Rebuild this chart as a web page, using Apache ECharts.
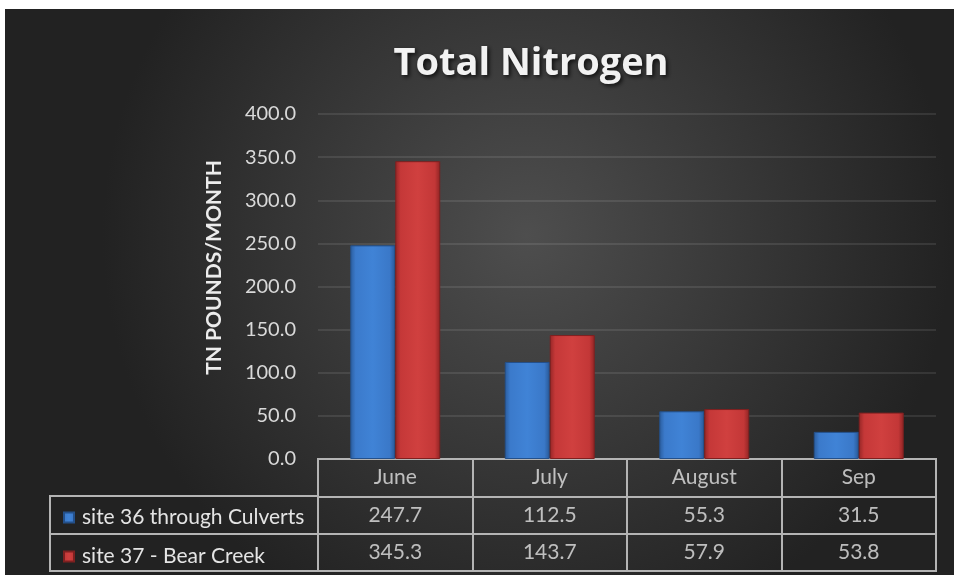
<!DOCTYPE html>
<html><head><meta charset="utf-8">
<script src="https://cdn.jsdelivr.net/npm/echarts@6/dist/echarts.min.js"></script>
<style>html,body{margin:0;padding:0;background:#fff}#c{width:954px;height:575px}</style>
</head><body><div id="c"></div>
<script>
const categories = ['June', 'July', 'August', 'Sep'];
const site36 = [247.7, 112.5, 55.3, 31.5];
const site37 = [345.3, 143.7, 57.9, 53.8];
const seriesNames = ['site 36 through Culverts', 'site 37 - Bear Creek'];
const yTicks = { min: 0, max: 400, interval: 50 };

const FONT = 'Lato';
const TXT = '#e4e4e4';
const LINE = '#b4b4b4';

const blueGrad = new echarts.graphic.LinearGradient(0, 0, 1, 0, [
  { offset: 0, color: '#2a5c9c' }, { offset: 0.12, color: '#3b7acb' },
  { offset: 0.5, color: '#4083d6' }, { offset: 0.88, color: '#3a78c8' }, { offset: 1, color: '#285896' }]);
const redGrad = new echarts.graphic.LinearGradient(0, 0, 1, 0, [
  { offset: 0, color: '#942626' }, { offset: 0.12, color: '#c53838' },
  { offset: 0.5, color: '#d0403f' }, { offset: 0.88, color: '#c33737' }, { offset: 1, color: '#8e2424' }]);

const chart = echarts.init(document.getElementById('c'), null, { renderer: 'canvas' });

function cellSeries(row, texts, name) {
  return {
    type: 'scatter', name: name, xAxisIndex: 1, yAxisIndex: 1, silent: true,
    symbolSize: 0, z: 5,
    data: categories.map((c, i) => ({ value: [c, row], label: { formatter: texts[i] } })),
    label: { show: true, position: 'inside', color: TXT, fontSize: 21, fontFamily: FONT }
  };
}

chart.setOption({
  animation: false,
  backgroundColor: 'transparent',
  graphic: [{
    type: 'rect', z: -10, left: 5, top: 9, silent: true,
    shape: { width: 949, height: 566 },
    style: { fill: new echarts.graphic.RadialGradient(0.55, 0.4, 0.75, [
      { offset: 0, color: '#4e4e4e' }, { offset: 1, color: '#222222' }]) }
  }],
  title: {
    text: 'Total Nitrogen', left: 526, top: 40, textAlign: 'center',
    textStyle: { color: '#f2f2f2', fontFamily: 'Open Sans', fontWeight: 'bold', fontSize: 38,
      textShadowColor: 'rgba(0,0,0,0.75)', textShadowBlur: 4, textShadowOffsetX: 2, textShadowOffsetY: 2 }
  },
  legend: {
    data: seriesNames, orient: 'vertical', left: 58, top: 502, itemGap: 18,
    icon: 'rect', itemWidth: 10, itemHeight: 10, selectedMode: false,
    textStyle: { color: TXT, fontSize: 21, fontFamily: FONT, lineHeight: 20, padding: [0, 0, 0, 3] }
  },
  grid: [
    { left: 318, right: 18, top: 114, bottom: 116 },
    { left: 318, right: 18, top: 459, bottom: 4, show: true, borderColor: LINE, borderWidth: 2 },
    { left: 50, right: 636, top: 496, bottom: 4, show: true, borderColor: LINE, borderWidth: 2 }
  ],
  xAxis: [
    { type: 'category', gridIndex: 0, data: categories, axisTick: { show: false },
      axisLine: { show: false }, axisLabel: { show: false } },
    { type: 'category', gridIndex: 1, data: categories, axisTick: { show: false },
      axisLine: { show: false }, axisLabel: { show: false },
      splitLine: { show: true, interval: 0, lineStyle: { color: LINE, width: 2 } } },
    { type: 'value', gridIndex: 2, show: false }
  ],
  yAxis: [
    { type: 'value', gridIndex: 0, min: yTicks.min, max: yTicks.max, interval: yTicks.interval,
      name: 'TN POUNDS/MONTH', nameLocation: 'middle', nameGap: 93, nameRotate: 90,
      nameTextStyle: { color: '#ececec', fontFamily: FONT, fontWeight: 'bold', fontSize: 21, padding: [0, 0, 0, 38] },
      axisLine: { show: false }, axisTick: { show: false },
      axisLabel: { color: '#d9d9d9', fontSize: 20, fontFamily: FONT, margin: 22, formatter: v => v.toFixed(1) },
      splitLine: { lineStyle: { color: 'rgba(255,255,255,0.13)', width: 1.5 } } },
    { type: 'value', gridIndex: 1, min: 0, max: 3, interval: 1, axisLabel: { show: false },
      axisLine: { show: false }, axisTick: { show: false },
      splitLine: { show: true, lineStyle: { color: LINE, width: 2 } } },
    { type: 'value', gridIndex: 2, min: 0, max: 2, interval: 1, axisLabel: { show: false },
      axisLine: { show: false }, axisTick: { show: false },
      splitLine: { show: true, lineStyle: { color: LINE, width: 2 } } }
  ],
  series: [
    { type: 'bar', name: seriesNames[0], data: site36, barWidth: 45, barGap: '0%',
      itemStyle: { color: blueGrad, borderColor: '#24508a', borderWidth: 1 } },
    { type: 'bar', name: seriesNames[1], data: site37, barWidth: 45, barGap: '0%',
      itemStyle: { color: redGrad, borderColor: '#7e2020', borderWidth: 1 } },
    cellSeries(2.5, categories, 'hdr'),
    cellSeries(1.5, site36.map(v => v.toFixed(1)), 'r36'),
    cellSeries(0.5, site37.map(v => v.toFixed(1)), 'r37')
  ]
});
</script></body></html>
